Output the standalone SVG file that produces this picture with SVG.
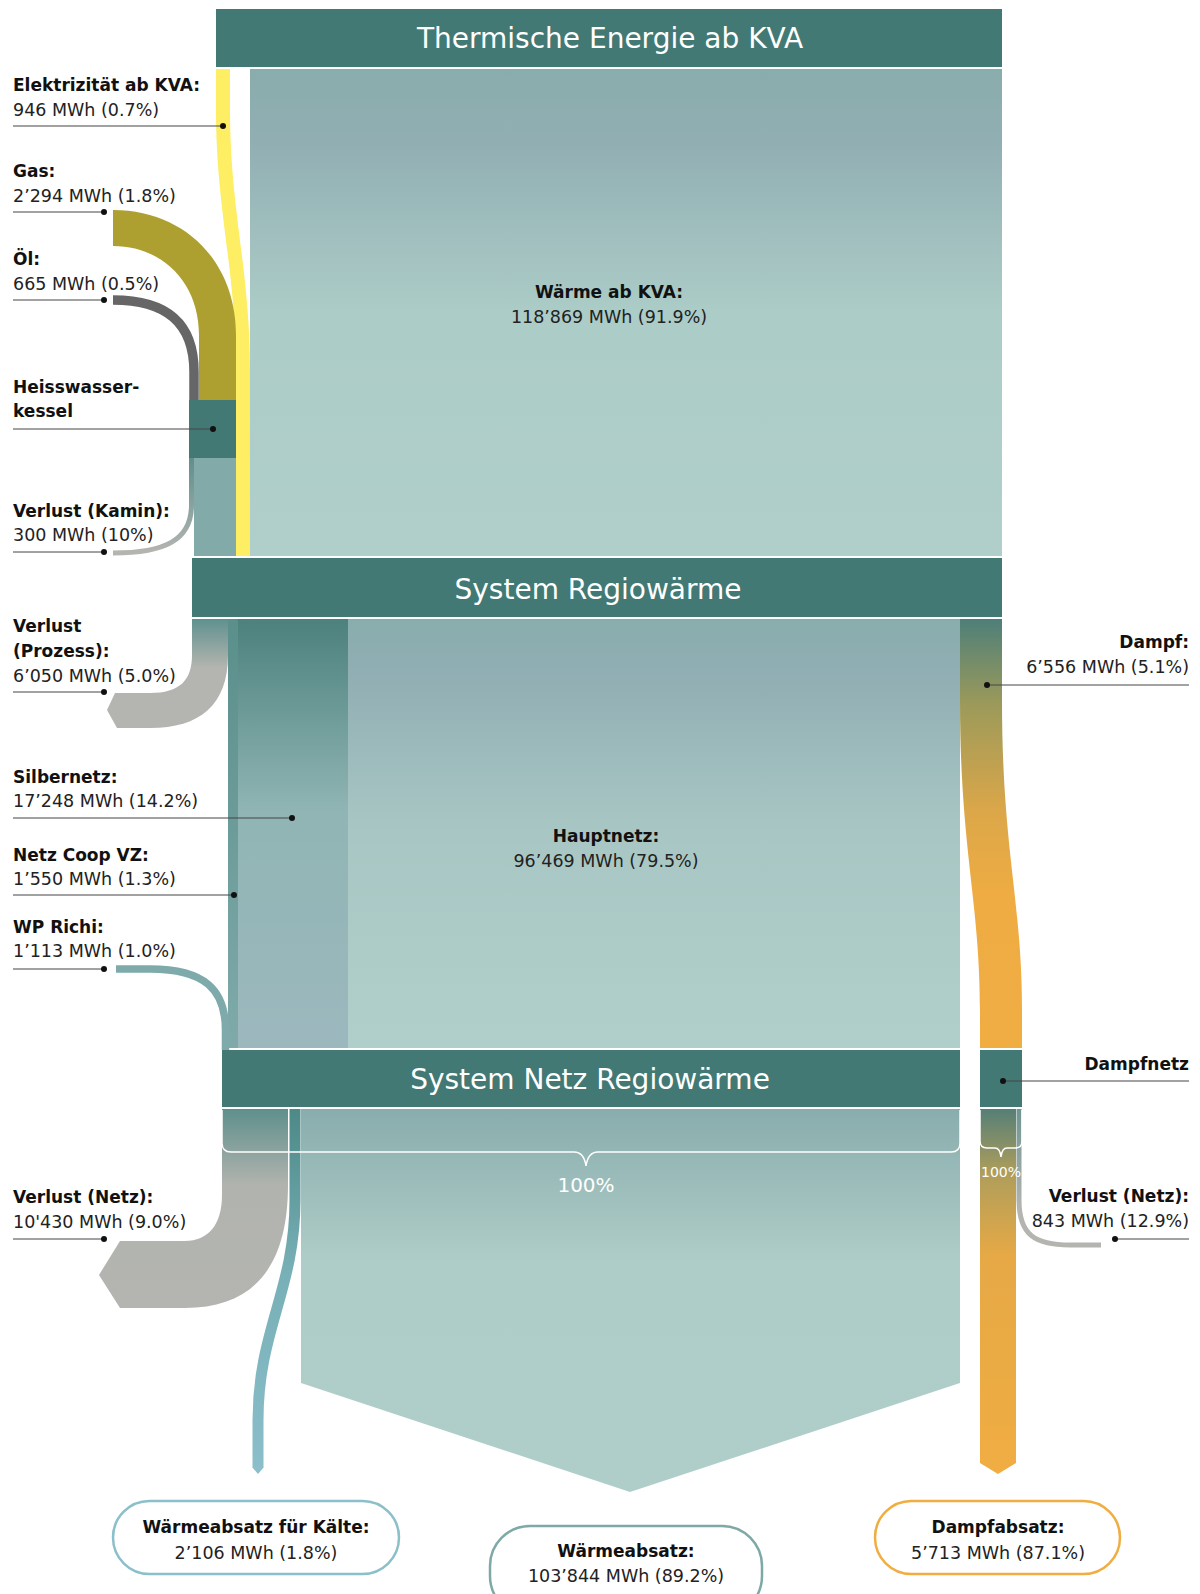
<svg xmlns="http://www.w3.org/2000/svg" width="1200" height="1594" viewBox="0 0 1200 1594">
<style>
.node{fill:#427975}
.hdr{font-family:"DejaVu Sans",sans-serif;font-size:28px;fill:#fff;text-anchor:middle}
.lb{font-family:"DejaVu Sans",sans-serif;font-size:17px;font-weight:bold;fill:#111}
.lv{font-family:"DejaVu Sans",sans-serif;font-size:17.5px;fill:#222}
.mid{text-anchor:middle}
.end{text-anchor:end}
.lead{stroke:#444;stroke-width:1;fill:none}
.dot{fill:#111}
.br{fill:none;stroke:#fff;stroke-width:1.5}
.pct{font-family:"DejaVu Sans",sans-serif;fill:#fff;text-anchor:middle}
.box{fill:#fff;stroke-width:2.5}
</style>
<defs>
<linearGradient id="gWarm" x1="0" y1="0" x2="0" y2="1">
<stop offset="0" stop-color="#89acac"/><stop offset="0.15" stop-color="#91afb3"/><stop offset="0.5" stop-color="#acccc7"/><stop offset="1" stop-color="#b0cfca"/>
</linearGradient>
<linearGradient id="gHaupt" x1="0" y1="0" x2="0" y2="1">
<stop offset="0" stop-color="#89adad"/><stop offset="0.12" stop-color="#90aeb3"/><stop offset="0.5" stop-color="#a8c7c4"/><stop offset="1" stop-color="#b1cfca"/>
</linearGradient>
<linearGradient id="gSilber" x1="0" y1="0" x2="0" y2="1">
<stop offset="0" stop-color="#4c817d"/><stop offset="0.45" stop-color="#90b5b4"/><stop offset="1" stop-color="#9cb8be"/>
</linearGradient>
<linearGradient id="gCoop" x1="0" y1="0" x2="0" y2="1">
<stop offset="0" stop-color="#5a8f8c"/><stop offset="1" stop-color="#7faaa9"/>
</linearGradient>
<linearGradient id="gAbsatz" x1="0" y1="1109" x2="0" y2="1492" gradientUnits="userSpaceOnUse">
<stop offset="0" stop-color="#89adad"/><stop offset="0.4" stop-color="#afcdc8"/><stop offset="1" stop-color="#b0cec9"/>
</linearGradient>
<linearGradient id="gDampf1" x1="0" y1="619" x2="0" y2="1048" gradientUnits="userSpaceOnUse">
<stop offset="0" stop-color="#4e7f79"/><stop offset="0.2" stop-color="#9c9a5a"/><stop offset="0.45" stop-color="#dca749"/><stop offset="0.65" stop-color="#efac42"/><stop offset="1" stop-color="#f0ad42"/>
</linearGradient>
<linearGradient id="gDampf2" x1="0" y1="1109" x2="0" y2="1474" gradientUnits="userSpaceOnUse">
<stop offset="0" stop-color="#567f76"/><stop offset="0.18" stop-color="#b09e5a"/><stop offset="0.4" stop-color="#e6a946"/><stop offset="1" stop-color="#f0ad42"/>
</linearGradient>
<linearGradient id="gProz" x1="0" y1="619" x2="0" y2="728" gradientUnits="userSpaceOnUse">
<stop offset="0" stop-color="#5f918e"/><stop offset="0.45" stop-color="#b4b5b0"/><stop offset="1" stop-color="#b4b5b0"/>
</linearGradient>
<linearGradient id="gNetzL" x1="0" y1="1109" x2="0" y2="1308" gradientUnits="userSpaceOnUse">
<stop offset="0" stop-color="#5e8f8c"/><stop offset="0.38" stop-color="#b1b3ae"/><stop offset="1" stop-color="#b4b5b0"/>
</linearGradient>
<linearGradient id="gNetzR" x1="0" y1="1109" x2="0" y2="1210" gradientUnits="userSpaceOnUse">
<stop offset="0" stop-color="#6f9591"/><stop offset="1" stop-color="#b4b5b0"/>
</linearGradient>
<linearGradient id="gKamin" x1="0" y1="458" x2="0" y2="553" gradientUnits="userSpaceOnUse">
<stop offset="0" stop-color="#5f8f8c"/><stop offset="1" stop-color="#b4b5b0"/>
</linearGradient>
<linearGradient id="gKaelte" x1="0" y1="1109" x2="0" y2="1474" gradientUnits="userSpaceOnUse">
<stop offset="0" stop-color="#4d8987"/><stop offset="0.45" stop-color="#78b0b7"/><stop offset="1" stop-color="#8bbfca"/>
</linearGradient>
</defs>
<rect width="1200" height="1594" fill="#fff"/>

<g id="connectors">
  <path id="flow-waerme-kva" d="M250,69 H1002 V556 H250 Z" fill="url(#gWarm)"/>
  <path id="flow-elektrizitaet" d="M216,69 L216,110 C216,210 236,270 236,370 L236,556 L250,556 L250,370 C250,270 230,210 230,110 L230,69 Z" fill="#fdee63"/>
  <path id="flow-gas" d="M113,210 C185,210 236,262 236,335 L236,400 L199,400 L199,335 C199,282 162,246 113,246 Z" fill="#ada031"/>
  <path id="flow-oel" d="M113,300 C165,300 194,322 194,372 L194,400" fill="none" stroke="#666" stroke-width="9.5"/>
  <rect id="flow-kessel-out" x="194" y="458" width="42" height="98" fill="#82aaa8"/>
  <path id="flow-verlust-kamin" d="M191.5,458 L191.5,505 C191.5,540 165,553 113,553" fill="none" stroke="url(#gKamin)" stroke-width="5"/>
  <rect id="flow-hauptnetz" x="348" y="619" width="612" height="429" fill="url(#gHaupt)"/>
  <rect id="flow-silbernetz" x="238" y="619" width="110" height="429" fill="url(#gSilber)"/>
  <rect id="flow-coop" x="228" y="619" width="10" height="429" fill="url(#gCoop)"/>
  <path id="flow-verlust-prozess" d="M192,619 L228,619 L228,655 C228,705 200,728 150,728 L117,728 L107,710 L115,693 L150,693 C180,693 192,680 192,655 Z" fill="url(#gProz)"/>
  <path id="flow-wp-richi" d="M116,969 L150,969 C205,969 225.5,990 225.5,1030 L225.5,1050" fill="none" stroke="#7eaaab" stroke-width="7.5"/>
  <path id="flow-dampf" d="M960,619 L1002,619 L1002,700 C1002,850 1022,900 1022,1010 L1022,1048 L980,1048 L980,1010 C980,900 960,850 960,700 Z" fill="url(#gDampf1)"/>
  <path id="flow-waermeabsatz" d="M301,1109 L960,1109 L960,1383 L630,1492 L301,1383 Z" fill="url(#gAbsatz)"/>
  <path id="flow-verlust-netz" d="M222,1109 L288,1109 L288,1185 C288,1265 255,1308 185,1308 L120,1308 L99,1275 L120,1241 L185,1241 C208,1241 222,1225 222,1195 Z" fill="url(#gNetzL)"/>
  <path id="flow-kaelte" d="M295,1109 L295,1200 C295,1290 258,1330 258,1420 L258,1468" fill="none" stroke="url(#gKaelte)" stroke-width="11"/>
  <polygon points="252.5,1467.5 263.5,1467.5 258,1474" fill="#8bbfca"/>
  <path id="flow-dampfabsatz" d="M980,1109 L1016,1109 L1016,1463 L998,1474 L980,1463 Z" fill="url(#gDampf2)"/>
  <path id="flow-verlust-dampf" d="M1019,1109 L1019,1200 C1019,1235 1035,1245 1070,1245 L1101,1245" fill="none" stroke="url(#gNetzR)" stroke-width="5"/>
</g>

<g id="node-thermische-energie">
  <rect class="node" x="216" y="9" width="786" height="58"/>
  <text class="hdr" x="610" y="48">Thermische Energie ab KVA</text>
</g>
<g id="node-system-regiowaerme">
  <rect class="node" x="192" y="558" width="810" height="59"/>
  <text class="hdr" x="598" y="599">System Regiowärme</text>
</g>
<g id="node-system-netz">
  <rect class="node" x="222" y="1050" width="738" height="57"/>
  <text class="hdr" x="590" y="1089">System Netz Regiowärme</text>
</g>
<g id="node-kessel">
  <rect class="node" x="189" y="400" width="47" height="58"/>
</g>
<g id="node-dampfnetz">
  <rect class="node" x="980" y="1050" width="42" height="57"/>
</g>

<g id="brackets">
  <path class="br" d="M222,1110 L222,1143 Q222,1152 231,1152 L574,1152 Q584,1152 586,1166 Q588,1152 598,1152 L951,1152 Q960,1152 960,1143 L960,1110"/>
  <text class="pct" x="586" y="1192" font-size="20">100%</text>
  <path class="br" d="M980,1110 L980,1141 Q980,1148 987,1148 L995,1148 Q1000,1148 1001,1157 Q1002,1148 1007,1148 L1015,1148 Q1022,1148 1022,1141 L1022,1110"/>
  <text class="pct" x="1001" y="1177" font-size="14">100%</text>
</g>

<g id="flow-labels">
  <g id="label-waerme-kva">
    <text class="lb mid" x="609" y="298">Wärme ab KVA:</text>
    <text class="lv mid" x="609" y="323">118’869 MWh (91.9%)</text>
  </g>
  <g id="label-hauptnetz">
    <text class="lb mid" x="606" y="842">Hauptnetz:</text>
    <text class="lv mid" x="606" y="867">96’469 MWh (79.5%)</text>
  </g>
  <g id="label-elektrizitaet">
    <text class="lb" x="13" y="91">Elektrizität ab KVA:</text>
    <text class="lv" x="13" y="116">946 MWh (0.7%)</text>
    <line class="lead" x1="13" y1="126" x2="223" y2="126"/><circle class="dot" cx="223" cy="126" r="3"/>
  </g>
  <g id="label-gas">
    <text class="lb" x="13" y="177">Gas:</text>
    <text class="lv" x="13" y="202">2’294 MWh (1.8%)</text>
    <line class="lead" x1="13" y1="212" x2="104" y2="212"/><circle class="dot" cx="104" cy="212" r="3"/>
  </g>
  <g id="label-oel">
    <text class="lb" x="13" y="265">Öl:</text>
    <text class="lv" x="13" y="290">665 MWh (0.5%)</text>
    <line class="lead" x1="13" y1="300" x2="104" y2="300"/><circle class="dot" cx="104" cy="300" r="3"/>
  </g>
  <g id="label-kessel">
    <text class="lb" x="13" y="393">Heisswasser-</text>
    <text class="lb" x="13" y="417">kessel</text>
    <line class="lead" x1="13" y1="429" x2="213" y2="429"/><circle class="dot" cx="213" cy="429" r="3"/>
  </g>
  <g id="label-verlust-kamin">
    <text class="lb" x="13" y="517">Verlust (Kamin):</text>
    <text class="lv" x="13" y="541">300 MWh (10%)</text>
    <line class="lead" x1="13" y1="552" x2="104" y2="552"/><circle class="dot" cx="104" cy="552" r="3"/>
  </g>
  <g id="label-verlust-prozess">
    <text class="lb" x="13" y="632">Verlust</text>
    <text class="lb" x="13" y="657">(Prozess):</text>
    <text class="lv" x="13" y="682">6’050 MWh (5.0%)</text>
    <line class="lead" x1="13" y1="692" x2="104" y2="692"/><circle class="dot" cx="104" cy="692" r="3"/>
  </g>
  <g id="label-silbernetz">
    <text class="lb" x="13" y="783">Silbernetz:</text>
    <text class="lv" x="13" y="807">17’248 MWh (14.2%)</text>
    <line class="lead" x1="13" y1="818" x2="292" y2="818"/><circle class="dot" cx="292" cy="818" r="3"/>
  </g>
  <g id="label-coop">
    <text class="lb" x="13" y="861">Netz Coop VZ:</text>
    <text class="lv" x="13" y="885">1’550 MWh (1.3%)</text>
    <line class="lead" x1="13" y1="895" x2="234" y2="895"/><circle class="dot" cx="234" cy="895" r="3"/>
  </g>
  <g id="label-wp-richi">
    <text class="lb" x="13" y="933">WP Richi:</text>
    <text class="lv" x="13" y="957">1’113 MWh (1.0%)</text>
    <line class="lead" x1="13" y1="969" x2="104" y2="969"/><circle class="dot" cx="104" cy="969" r="3"/>
  </g>
  <g id="label-verlust-netz">
    <text class="lb" x="13" y="1203">Verlust (Netz):</text>
    <text class="lv" x="13" y="1228">10'430 MWh (9.0%)</text>
    <line class="lead" x1="13" y1="1239" x2="104" y2="1239"/><circle class="dot" cx="104" cy="1239" r="3"/>
  </g>
  <g id="label-dampf">
    <text class="lb end" x="1189" y="648">Dampf:</text>
    <text class="lv end" x="1189" y="673">6’556 MWh (5.1%)</text>
    <line class="lead" x1="987" y1="685" x2="1189" y2="685"/><circle class="dot" cx="987" cy="685" r="3"/>
  </g>
  <g id="label-dampfnetz">
    <text class="lb end" x="1189" y="1070">Dampfnetz</text>
    <line class="lead" x1="1003" y1="1081" x2="1189" y2="1081"/><circle class="dot" cx="1003" cy="1081" r="3"/>
  </g>
  <g id="label-verlust-dampf">
    <text class="lb end" x="1189" y="1202">Verlust (Netz):</text>
    <text class="lv end" x="1189" y="1227">843 MWh (12.9%)</text>
    <line class="lead" x1="1115" y1="1239" x2="1189" y2="1239"/><circle class="dot" cx="1115" cy="1239" r="3"/>
  </g>
</g>

<g id="node-kaelte">
  <rect class="box" x="113" y="1501" width="286" height="73" rx="36.5" stroke="#8bbfca"/>
  <text class="lb mid" x="256" y="1533">Wärmeabsatz für Kälte:</text>
  <text class="lv mid" x="256" y="1559">2’106 MWh (1.8%)</text>
</g>
<g id="node-waermeabsatz">
  <rect class="box" x="490" y="1526" width="272" height="90" rx="40" stroke="#7fa9a6"/>
  <text class="lb mid" x="626" y="1557">Wärmeabsatz:</text>
  <text class="lv mid" x="626" y="1582">103’844 MWh (89.2%)</text>
</g>
<g id="node-dampfabsatz">
  <rect class="box" x="875" y="1501" width="245" height="73" rx="36.5" stroke="#f0ad42"/>
  <text class="lb mid" x="998" y="1533">Dampfabsatz:</text>
  <text class="lv mid" x="998" y="1559">5’713 MWh (87.1%)</text>
</g>
</svg>
